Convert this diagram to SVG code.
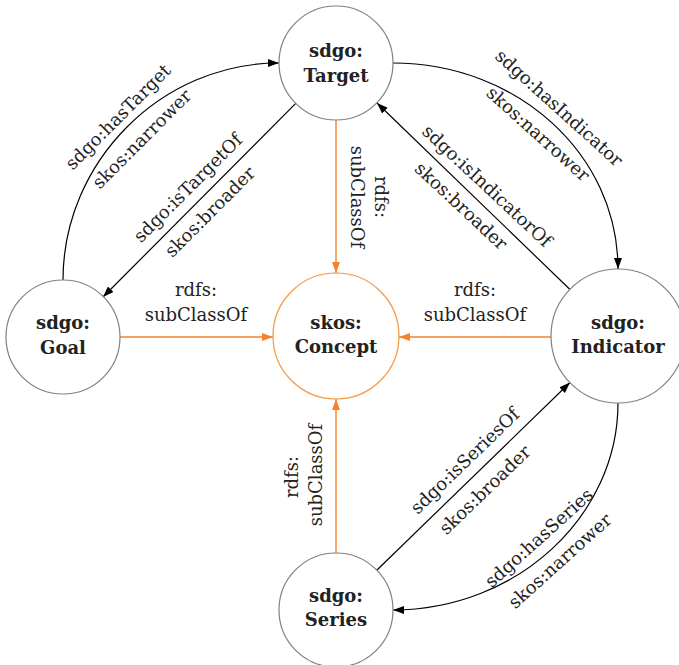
<svg xmlns="http://www.w3.org/2000/svg" width="679" height="665" viewBox="0 0 679 665">
<style>
.node{fill:#fff;stroke:#808080;stroke-width:1.2}
.cnode{fill:#fff;stroke:#f7943e;stroke-width:1.2}
.nl{font-family:"DejaVu Serif","Liberation Serif",serif;font-weight:bold;font-size:18px;fill:#222;text-anchor:middle}
.el{font-family:"DejaVu Serif","Liberation Serif",serif;font-size:18px;fill:#222;text-anchor:middle}
.e{fill:none;stroke:#000;stroke-width:1.2}
.o{fill:none;stroke:#f5822a;stroke-width:1.4}
</style>
<defs>
<marker id="ab" markerUnits="userSpaceOnUse" markerWidth="12" markerHeight="10" refX="11" refY="4" orient="auto">
<path d="M0,0 L11,4 L0,8 z" fill="#000"/>
</marker>
<marker id="ao" markerUnits="userSpaceOnUse" markerWidth="12" markerHeight="10" refX="11" refY="4" orient="auto">
<path d="M0,0 L11,4 L0,8 z" fill="#f5822a"/>
</marker>
</defs>
<g id="connectors">
<path class="e" d="M63,280 C63,162 161,63 279,63" marker-end="url(#ab)"/>
<path class="e" d="M296.5,102.7 L103,297" marker-end="url(#ab)"/>
<path class="e" d="M393,63 C517,63 618,154 618,269" marker-end="url(#ab)"/>
<path class="e" d="M570,289.5 L377,103" marker-end="url(#ab)"/>
<path class="e" d="M618,403 C618,516 517,610 393,610" marker-end="url(#ab)"/>
<path class="e" d="M377,570 L570,382.5" marker-end="url(#ab)"/>
<path class="o" d="M336,120 L336,273" marker-end="url(#ao)"/>
<path class="o" d="M120,337 L273,337" marker-end="url(#ao)"/>
<path class="o" d="M551,337 L399,337" marker-end="url(#ao)"/>
<path class="o" d="M336,553 L336,399" marker-end="url(#ao)"/>
<text class="el" transform="translate(118,117) rotate(-45)" y="6">sdgo:hasTarget</text>
<text class="el" transform="translate(142,139) rotate(-45)" y="6">skos:narrower</text>
<text class="el" transform="translate(188,188) rotate(-45)" y="6">sdgo:isTargetOf</text>
<text class="el" transform="translate(210,212) rotate(-45)" y="6">skos:broader</text>
<text class="el" transform="translate(559,108) rotate(42)" y="6">sdgo:hasIndicator</text>
<text class="el" transform="translate(538,134) rotate(42)" y="6">skos:narrower</text>
<text class="el" transform="translate(487,186) rotate(43)" y="6">sdgo:isIndicatorOf</text>
<text class="el" transform="translate(461,206) rotate(43)" y="6">skos:broader</text>
<text class="el" transform="translate(539,538) rotate(-42)" y="6">sdgo:hasSeries</text>
<text class="el" transform="translate(560,561) rotate(-42)" y="6">skos:narrower</text>
<text class="el" transform="translate(465,461) rotate(-44)" y="6">sdgo:isSeriesOf</text>
<text class="el" transform="translate(485,490) rotate(-44)" y="6">skos:broader</text>
<text class="el" x="196" y="296">rdfs:</text>
<text class="el" x="196" y="321">subClassOf</text>
<text class="el" x="475" y="296">rdfs:</text>
<text class="el" x="475" y="321">subClassOf</text>
<text class="el" transform="translate(375,197) rotate(90)">rdfs:</text>
<text class="el" transform="translate(351,197) rotate(90)">subClassOf</text>
<text class="el" transform="translate(298,477) rotate(-90)">rdfs:</text>
<text class="el" transform="translate(322,475) rotate(-90)">subClassOf</text>
</g>
<g id="target">
<circle class="node" cx="336" cy="63" r="57"/>
<text class="nl" x="336" y="57">sdgo:</text>
<text class="nl" x="336" y="82">Target</text>
</g>
<g id="goal">
<circle class="node" cx="63" cy="337" r="57"/>
<text class="nl" x="63" y="329">sdgo:</text>
<text class="nl" x="63" y="354">Goal</text>
</g>
<g id="concept">
<circle class="cnode" cx="336" cy="336" r="63"/>
<text class="nl" x="336" y="329">skos:</text>
<text class="nl" x="336" y="353">Concept</text>
</g>
<g id="indicator">
<circle class="node" cx="618" cy="336" r="67"/>
<text class="nl" x="618" y="329">sdgo:</text>
<text class="nl" x="618" y="353">Indicator</text>
</g>
<g id="series">
<circle class="node" cx="336" cy="610" r="57"/>
<text class="nl" x="336" y="602">sdgo:</text>
<text class="nl" x="336" y="626">Series</text>
</g>
</svg>
